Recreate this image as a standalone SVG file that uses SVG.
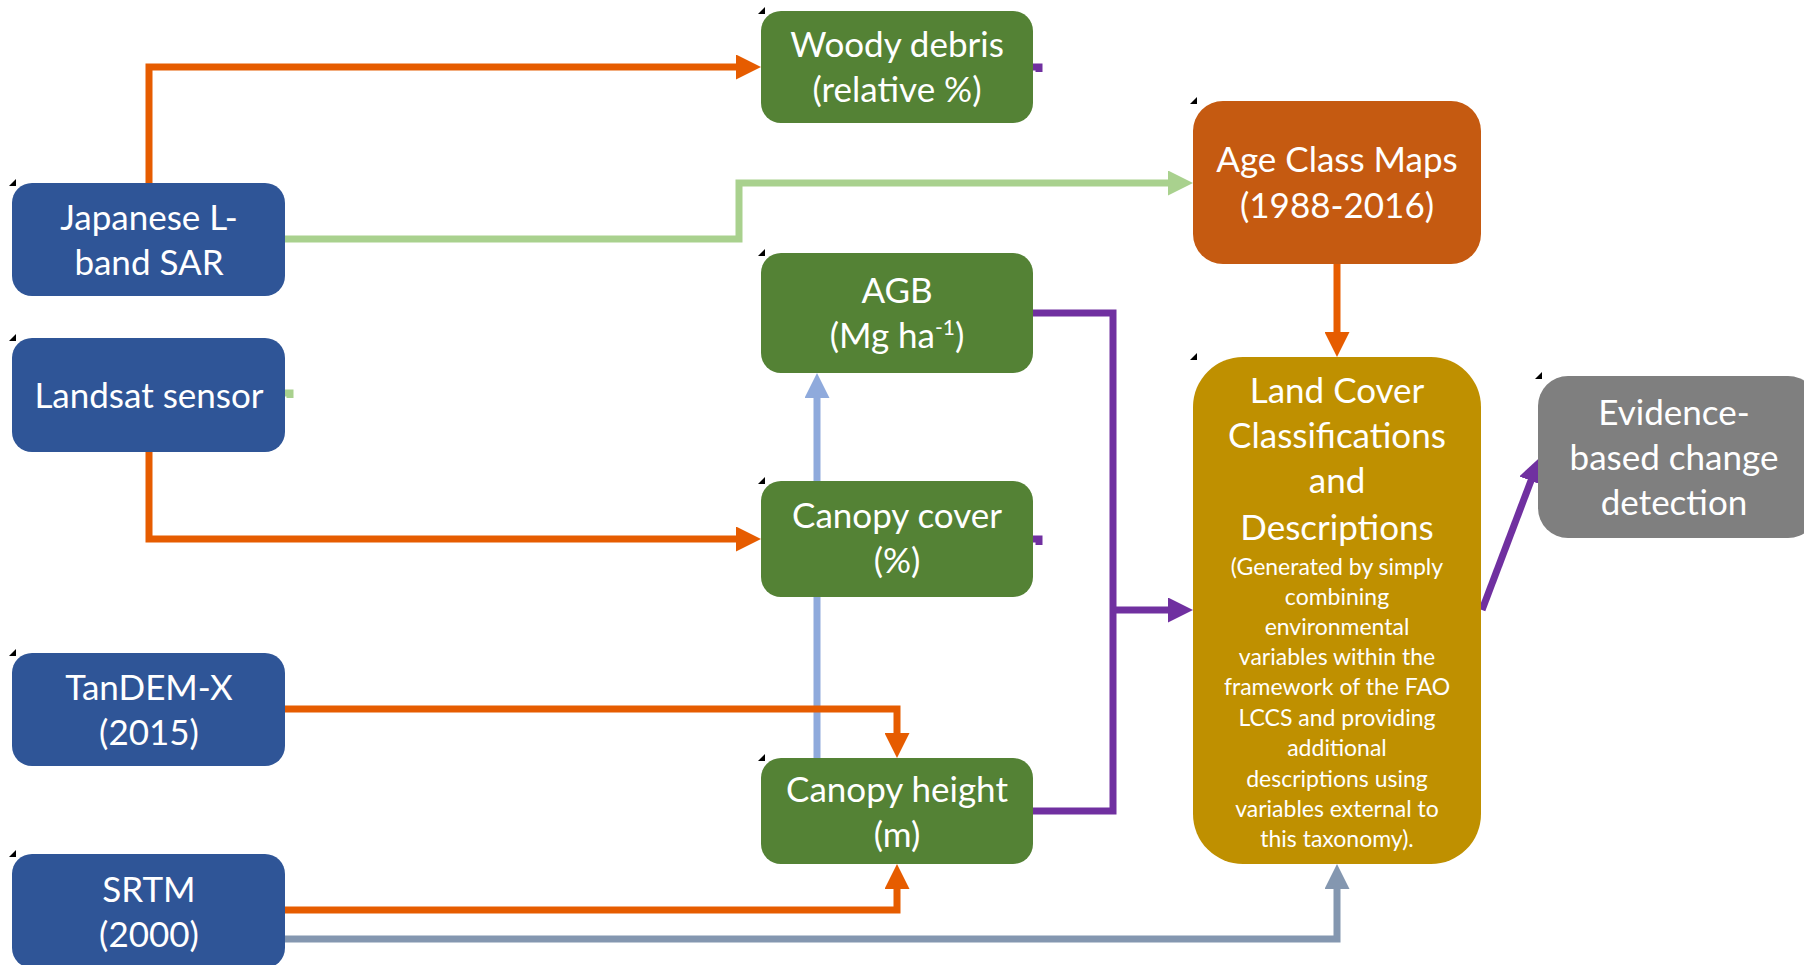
<svg xmlns="http://www.w3.org/2000/svg" width="1804" height="965" viewBox="0 0 1804 965">
<style>
.t{font-family:Lato,"Open Sans","Liberation Sans",sans-serif;font-size:35px;fill:#fff;text-anchor:middle}
.s{font-size:23px}
.c{fill:none;stroke-width:7;stroke-linejoin:miter}
.or{stroke:#E65C00}.gr{stroke:#A9D18E}.pu{stroke:#7030A0}.lb{stroke:#8FAADC}.gb{stroke:#8497B0}
.blue{fill:#2F5597}.green{fill:#548235}
.h{fill:#000}
</style>
<defs>
<marker id="aOr" viewBox="0 0 25 25" refX="3" refY="12.5" markerWidth="25" markerHeight="25" markerUnits="userSpaceOnUse" orient="auto"><path d="M0,0 L25,12.5 L0,25 z" fill="#E65C00"/></marker>
<marker id="aGr" viewBox="0 0 25 25" refX="3" refY="12.5" markerWidth="25" markerHeight="25" markerUnits="userSpaceOnUse" orient="auto"><path d="M0,0 L25,12.5 L0,25 z" fill="#A9D18E"/></marker>
<marker id="aPu" viewBox="0 0 25 25" refX="3" refY="12.5" markerWidth="25" markerHeight="25" markerUnits="userSpaceOnUse" orient="auto"><path d="M0,0 L25,12.5 L0,25 z" fill="#7030A0"/></marker>
<marker id="aLb" viewBox="0 0 25 25" refX="3" refY="12.5" markerWidth="25" markerHeight="25" markerUnits="userSpaceOnUse" orient="auto"><path d="M0,0 L25,12.5 L0,25 z" fill="#8FAADC"/></marker>
<marker id="aGb" viewBox="0 0 25 25" refX="3" refY="12.5" markerWidth="25" markerHeight="25" markerUnits="userSpaceOnUse" orient="auto"><path d="M0,0 L25,12.5 L0,25 z" fill="#8497B0"/></marker>
<path id="hdl" d="M0,7 L7,0 L7,7 z"/>
</defs>
<rect width="1804" height="965" fill="#fff"/>
<g id="connectors">
<path class="c or" d="M149,183 V67 H739" marker-end="url(#aOr)"/>
<path class="c gr" d="M285,239 H739 V183 H1171" marker-end="url(#aGr)"/>
<path class="c or" d="M149,452 V539 H739" marker-end="url(#aOr)"/>
<path class="c gr" d="M285,393 H290 V398" stroke-width="6"/>
<path class="c pu" d="M1033,67 H1039 V72" stroke-width="6"/>
<path class="c pu" d="M1033,539 H1039 V545" stroke-width="6"/>
<path class="c pu" d="M1033,313 H1113 V811 H1033"/>
<path class="c pu" d="M1113,610 H1171" marker-end="url(#aPu)"/>
<path class="c lb" d="M817,758 V395" marker-end="url(#aLb)"/>
<path class="c or" d="M285,709 H897 V736" marker-end="url(#aOr)"/>
<path class="c or" d="M285,910 H897 V886" marker-end="url(#aOr)"/>
<path class="c gb" d="M285,939 H1337 V886" marker-end="url(#aGb)"/>
<path class="c or" d="M1337,264 V335" marker-end="url(#aOr)"/>
<path class="c pu" d="M1482,610 L1532,478" marker-end="url(#aPu)"/>
</g>
<g id="japanese">
<rect class="blue" x="12" y="183" width="273" height="113" rx="20"/>
<use href="#hdl" class="h" x="9" y="179"/>
<text class="t" x="149" y="230">Japanese L-</text>
<text class="t" x="149" y="275">band SAR</text>
</g>
<g id="landsat">
<rect class="blue" x="12" y="338" width="273" height="114" rx="20"/>
<use href="#hdl" class="h" x="9" y="334"/>
<text class="t" x="149" y="408">Landsat sensor</text>
</g>
<g id="tandem">
<rect class="blue" x="12" y="653" width="273" height="113" rx="20"/>
<use href="#hdl" class="h" x="9" y="649"/>
<text class="t" x="149" y="700">TanDEM-X</text>
<text class="t" x="149" y="745">(2015)</text>
</g>
<g id="srtm">
<rect class="blue" x="12" y="854" width="273" height="114" rx="20"/>
<use href="#hdl" class="h" x="9" y="850"/>
<text class="t" x="149" y="902">SRTM</text>
<text class="t" x="149" y="947">(2000)</text>
</g>
<g id="woody">
<rect class="green" x="761" y="11" width="272" height="112" rx="20"/>
<use href="#hdl" class="h" x="758" y="7"/>
<text class="t" x="897" y="57">Woody debris</text>
<text class="t" x="897" y="102">(relative %)</text>
</g>
<g id="agb">
<rect class="green" x="761" y="253" width="272" height="120" rx="20"/>
<use href="#hdl" class="h" x="758" y="249"/>
<text class="t" x="897" y="303">AGB</text>
<text class="t" x="897" y="348">(Mg ha<tspan font-size="21" dy="-13">-1</tspan><tspan dy="13">)</tspan></text>
</g>
<g id="canopycover">
<rect class="green" x="761" y="481" width="272" height="116" rx="20"/>
<use href="#hdl" class="h" x="758" y="477"/>
<text class="t" x="897" y="528">Canopy cover</text>
<text class="t" x="897" y="573">(%)</text>
</g>
<g id="canopyheight">
<rect class="green" x="761" y="758" width="272" height="106" rx="20"/>
<use href="#hdl" class="h" x="758" y="754"/>
<text class="t" x="897" y="802">Canopy height</text>
<text class="t" x="897" y="847">(m)</text>
</g>
<g id="ageclass">
<rect x="1193" y="101" width="288" height="163" rx="30" fill="#C55A11"/>
<use href="#hdl" class="h" x="1190" y="97"/>
<text class="t" x="1337" y="172">Age Class Maps</text>
<text class="t" x="1337" y="218">(1988-2016)</text>
</g>
<g id="landcover">
<rect x="1193" y="357" width="288" height="507" rx="50" fill="#BF9000"/>
<use href="#hdl" class="h" x="1190" y="353"/>
<text class="t" x="1337" y="403">Land Cover</text>
<text class="t" x="1337" y="448">Classifications</text>
<text class="t" x="1337" y="493">and</text>
<text class="t" x="1337" y="540">Descriptions</text>
<text class="t s" x="1337" y="575">(Generated by simply</text>
<text class="t s" x="1337" y="605">combining</text>
<text class="t s" x="1337" y="635">environmental</text>
<text class="t s" x="1337" y="665">variables within the</text>
<text class="t s" x="1337" y="695">framework of the FAO</text>
<text class="t s" x="1337" y="726">LCCS and providing</text>
<text class="t s" x="1337" y="756">additional</text>
<text class="t s" x="1337" y="787">descriptions using</text>
<text class="t s" x="1337" y="817">variables external to</text>
<text class="t s" x="1337" y="847">this taxonomy).</text>
</g>
<g id="evidence">
<rect x="1538" y="376" width="280" height="162" rx="30" fill="#7F7F7F"/>
<use href="#hdl" class="h" x="1535" y="372"/>
<text class="t" x="1674" y="425">Evidence-</text>
<text class="t" x="1674" y="470">based change</text>
<text class="t" x="1674" y="515">detection</text>
</g>
</svg>
